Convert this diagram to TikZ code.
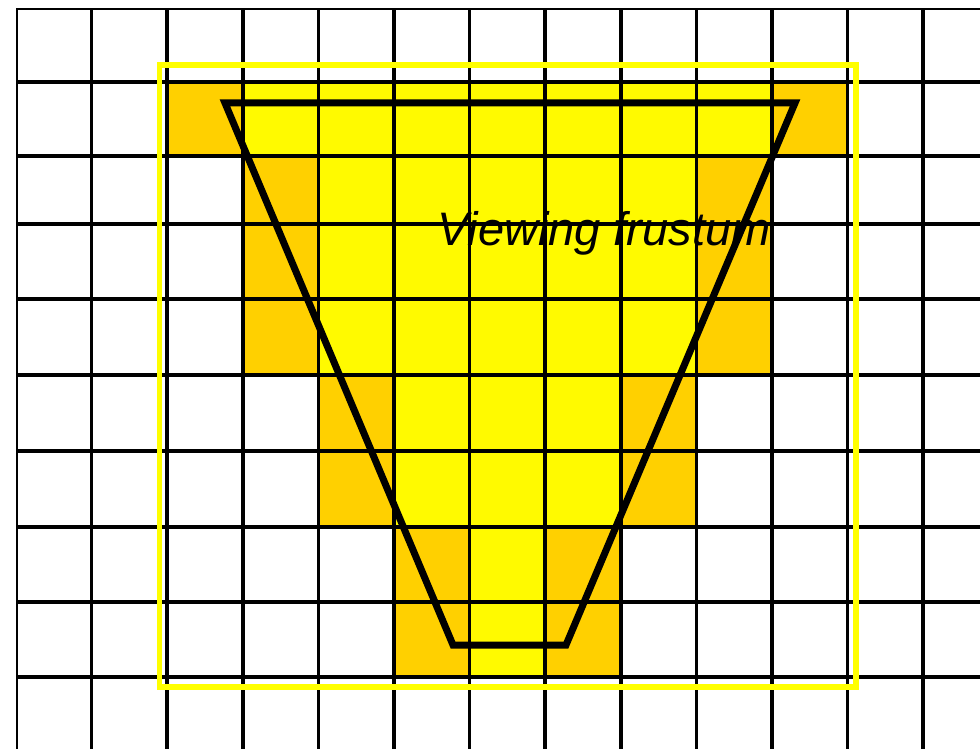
\documentclass[tikz,border=0pt]{standalone}
\usepackage{fontspec}
\setsansfont{Liberation Sans}
\usepackage{xcolor}
\definecolor{cellorange}{RGB}{255,208,0}
\definecolor{cellyellow}{RGB}{255,250,0}
\definecolor{boxyellow}{RGB}{255,255,0}

\begin{document}
\begin{tikzpicture}[
    x=1pt, y=-1pt,
    cell/.style={draw=black,line width=1.7pt},
    covered/.style={fill=cellorange},
    inside/.style={fill=cellyellow},
    bounds/.style={draw=boxyellow,line width=5.5pt},
    frustum/.style={draw=black,line width=7pt,line join=miter},
    label/.style={font=\sffamily\itshape\fontsize{47}{56}\selectfont,inner sep=0pt,anchor=base west}
  ]
    \useasboundingbox (0,0) rectangle (980,749);

    % cells touched by the frustum
    \fill[covered] (167,82) rectangle (848,156);
    \fill[inside] (242,82) rectangle (772,156);
    \fill[covered] (242,156) rectangle (772,375);
    \fill[inside] (318,156) rectangle (696,375);
    \fill[covered] (318,375) rectangle (696,527);
    \fill[inside] (394,375) rectangle (620,527);
    \fill[covered] (394,527) rectangle (620,677);
    \fill[inside] (469,527) rectangle (545,677);

    % grid
    \foreach \ya/\yb in {8/82,82/156,156/224,224/299,299/375,375/451,451/527,527/602,602/677,677/752}
      \foreach \i in {0,...,12}
        \draw[cell] ({16+75.6*\i+0.9},\ya+0.9) rectangle ({16+75.6*(\i+1)-0.9},\yb-0.9);

    \draw[bounds] (159.5,65) rectangle (856,687);

    \coordinate (nearleft) at (453,645);
    \coordinate (nearright) at (566,645);
    \coordinate (farright) at (795,103);
    \coordinate (farleft) at (225,103);
    \draw[frustum] (farleft) -- (farright) -- (nearright) -- (nearleft) -- cycle;

    \node[label] (title) at (437,245) {Viewing frustum};
\end{tikzpicture}
\end{document}
